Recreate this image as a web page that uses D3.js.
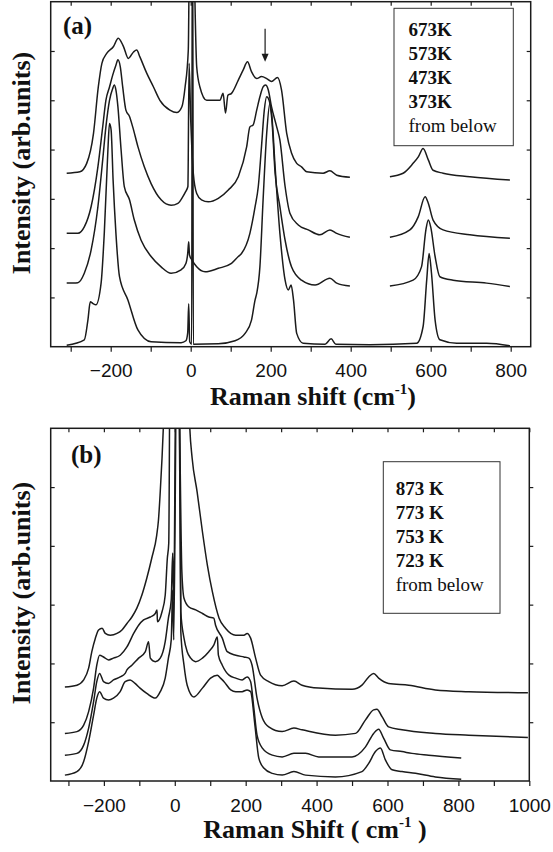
<!DOCTYPE html>
<html><head><meta charset="utf-8">
<script src="https://cdn.jsdelivr.net/npm/d3@7"></script>
<style>body{margin:0;background:#fff}svg{display:block}</style>
</head><body><svg id="c" width="553" height="852"></svg>
<script>
// ---------- Panel (a) data: [Raman shift, intensity offset units] ----------
const a673K = [[-310,0.03],[-266,0.14],[-257,0.54],[-251,0.91],[-245,0.88],[-237,0.85],[-224,1.29],[-216,2.31],[-207,3.99],[-203,4.53],[-199,4.40],[-194,3.38],[-187,2.31],[-178,1.42],[-157,0.95],[-132,0.34],[-99,0.1],[-24,0.08],[-12,0.12],[-7.5,0.28],[-5,0.87],[-2.5,0.1],[2.5,0.05],[4,9],[5,9],[6.5,0.05],[69,0.06],[111,0.12],[136,0.27],[152,0.54],[161,0.95],[165,1.08],[173,1.62],[181,2.98],[190,4.33],[198,4.94],[203,4.67],[211,3.65],[223,2.30],[236,1.35],[244,1.15],[251,1.25],[257,0.95],[265,0.27],[281,0.07],[336,0.05],[351,0.16],[363,0.05],[448,0.04],[565,0.07],[581,0.41],[590,1.35],[596,1.89],[602,1.49],[611,0.54],[623,0.14],[665,0.07],[740,0.07],[798,0.02]];
const a573K = [[-310,1.29],[-282,1.30],[-266,1.49],[-249,1.96],[-232,2.84],[-220,3.79],[-212,4.46],[-203,5.00],[-195,5.24],[-191,5.31],[-187,5.21],[-182,4.87],[-174,3.99],[-166,3.25],[-153,2.98],[-141,2.57],[-124,2.16],[-99,1.83],[-74,1.62],[-49,1.49],[-24,1.56],[-12,1.69],[-7.5,1.89],[-5,2.13],[-3,1.86],[3,1.76],[15,1.62],[36,1.52],[69,1.59],[102,1.69],[119,1.83],[127,1.89],[148,2.30],[161,2.84],[169,3.25],[177,4.06],[184,4.80],[190,5.07],[196,5.00],[203,4.60],[211,3.52],[223,2.84],[236,2.16],[252,1.62],[277,1.35],[311,1.25],[348,1.39],[365,1.29],[398,1.23],[450,null],[498,1.23],[556,1.35],[577,1.62],[588,2.37],[594,2.57],[600,2.43],[611,1.83],[623,1.42],[656,1.35],[740,1.29],[798,1.22]];
const a473K = [[-310,2.30],[-282,2.30],[-266,2.43],[-249,2.84],[-232,3.65],[-220,4.46],[-212,5.00],[-203,5.27],[-195,5.51],[-187,5.71],[-182,5.82],[-176,5.68],[-170,5.27],[-162,4.80],[-153,4.67],[-145,4.46],[-132,4.06],[-116,3.65],[-99,3.31],[-74,2.98],[-49,2.87],[-32,2.91],[-20,3.04],[-13,3.14],[-7,3.25],[-4,5.75],[0,4.6],[3,4.0],[6.5,3.52],[15,3.11],[27,2.98],[44,2.94],[69,3.01],[94,3.18],[119,3.45],[140,4.06],[148,4.46],[156,4.50],[165,4.80],[173,5.07],[181,5.27],[187,5.31],[194,5.21],[202,4.87],[215,4.46],[223,4.19],[236,3.25],[248,2.71],[269,2.47],[294,2.37],[323,2.27],[348,2.37],[365,2.30],[398,2.22],[450,null],[498,2.22],[548,2.37],[569,2.64],[586,3.04],[594,2.91],[606,2.57],[631,2.37],[698,2.27],[798,2.20]];
const a373K = [[-310,3.52],[-277,3.55],[-260,3.72],[-243,4.33],[-231,5.27],[-222,5.75],[-210,5.95],[-193,6.09],[-181,6.26],[-168,6.09],[-156,5.85],[-143,5.98],[-135,6.02],[-127,5.88],[-110,5.55],[-93,5.27],[-77,5.00],[-52,4.80],[-35,4.75],[-22,4.87],[-14,5.27],[-6,6.02],[-2,9],[4,9],[15,5.68],[23,5.27],[40,5.00],[73,5.00],[81,5.14],[87,4.74],[93,5.10],[102,5.14],[119,5.41],[131,5.61],[142,5.78],[152,5.58],[165,5.44],[177,5.48],[190,5.44],[202,5.38],[217,5.46],[227,5.21],[240,4.33],[252,3.93],[265,3.72],[277,3.65],[290,3.55],[331,3.52],[348,3.57],[365,3.48],[398,3.44],[450,null],[498,3.45],[531,3.52],[556,3.72],[569,3.85],[581,4.02],[594,3.79],[606,3.58],[631,3.52],[698,3.45],[798,3.38]];
const aLegend = ["673K","573K","473K","373K"];
const aXTicks = [-300,-200,-100,0,100,200,300,400,500,600,700,800];
const aXLabels = [-200,0,200,400,600,800];
const aYTicks = [1,2,3,4,5,6];
const aArrow = [[186,6.45],[186,5.78]];

// ---------- Panel (b) data ----------
const b873K = [[-310,0.10],[-276,0.16],[-257,0.33],[-243,0.67],[-229,1.12],[-220,1.41],[-212,1.52],[-201,1.41],[-187,1.38],[-173,1.41],[-154,1.52],[-140,1.69],[-126,1.72],[-112,1.66],[-98,1.58],[-79,1.49],[-55,1.41],[-41,1.52],[-27,1.75],[-18,2.09],[-10,2.40],[-6,3.25],[-3,2.40],[6,7.5],[12,7.5],[17,2.54],[26,1.97],[35,1.63],[54,1.43],[78,1.58],[101,1.75],[120,1.80],[129,1.75],[139,1.69],[158,1.55],[172,1.52],[190,1.52],[204,1.55],[214,1.52],[226,0.95],[237,0.39],[251,0.22],[275,0.13],[303,0.10],[336,0.16],[369,0.10],[453,0.07],[528,0.16],[547,0.30],[566,0.50],[580,0.56],[594,0.36],[613,0.19],[641,0.16],[679,0.13],[735,0.07],[808,0.03]];
const b773K = [[-310,0.44],[-276,0.47],[-257,0.61],[-243,0.90],[-229,1.35],[-220,1.69],[-212,1.83],[-201,1.69],[-187,1.66],[-173,1.72],[-154,1.77],[-140,1.83],[-135,1.89],[-121,1.97],[-102,2.09],[-83,2.20],[-74,2.37],[-69,2.09],[-55,2.03],[-41,2.09],[-27,2.37],[-18,2.77],[-10,3.08],[-6,3.88],[-3,3.08],[4,7.5],[11,7.5],[17,2.88],[26,2.43],[35,2.20],[45,2.09],[59,2.03],[78,2.09],[96,2.20],[110,2.31],[120,2.45],[123,2.14],[134,1.97],[153,1.80],[172,1.75],[190,1.72],[204,1.77],[214,1.69],[223,1.24],[232,0.78],[247,0.56],[275,0.44],[303,0.41],[336,0.47],[369,0.47],[406,0.41],[500,0.41],[538,0.58],[561,0.81],[575,0.88],[589,0.73],[608,0.53],[641,0.50],[669,0.47],[716,0.44],[808,0.39]];
const b753K = [[-310,0.81],[-276,0.84],[-257,0.95],[-243,1.18],[-229,1.58],[-220,1.97],[-212,2.14],[-201,2.11],[-187,2.06],[-173,2.09],[-154,2.14],[-135,2.28],[-116,2.51],[-102,2.65],[-88,2.74],[-69,2.79],[-55,2.85],[-50,2.91],[-49,2.71],[-36,2.88],[-27,3.16],[-21,3.79],[-17,4.05],[-13,7.5],[9,7.5],[20,3.56],[26,3.11],[40,2.96],[59,2.91],[78,2.85],[96,2.79],[110,2.77],[115,2.65],[134,2.43],[148,2.20],[172,2.14],[195,2.11],[209,2.09],[218,1.97],[232,1.41],[247,1.07],[265,0.92],[303,0.84],[336,0.90],[359,0.87],[453,0.78],[510,0.81],[538,1.04],[561,1.21],[570,1.22],[585,1.09],[603,0.92],[641,0.87],[735,0.81],[829,0.78],[996,0.74]];
const b723K = [[-310,1.60],[-276,1.63],[-257,1.72],[-243,1.92],[-234,2.20],[-224,2.43],[-215,2.57],[-205,2.60],[-196,2.51],[-182,2.48],[-163,2.51],[-149,2.57],[-135,2.68],[-121,2.79],[-107,2.94],[-93,3.16],[-79,3.45],[-65,3.79],[-51,4.18],[-46,4.44],[-41,4.92],[-36,5.49],[-32,6.05],[-25,7.5],[35,7.5],[42,6.05],[49,5.49],[63,4.92],[78,4.24],[92,3.67],[106,3.22],[125,2.77],[143,2.60],[172,2.48],[195,2.48],[204,2.51],[214,2.43],[228,2.09],[242,1.80],[265,1.69],[303,1.62],[336,1.70],[359,1.63],[406,1.58],[500,1.56],[528,1.63],[547,1.77],[561,1.83],[575,1.75],[603,1.66],[660,1.63],[735,1.55],[829,1.52],[996,1.50]];
const bLegend = ["873 K","773 K","753 K","723 K"];
const bXTicks = [-300,-200,-100,0,100,200,300,400,500,600,700,800,900,1000];
const bXLabels = [-200,0,200,400,600,800,1000];
const bYTicks = [1,2,3,4,5];

const svg = d3.select("#c");
const serif = "'Liberation Serif','Times New Roman',Times,serif";
const sans = "'Liberation Sans',Arial,Helvetica,sans-serif";
const ink = "#1b1b1b";

function panel(cfg){
  const x = d3.scaleLinear().domain(cfg.xDomain).range([cfg.L, cfg.R]);
  const y = d3.scaleLinear().domain(cfg.yDomain).range([cfg.B, cfg.T]);
  const g = svg.append("g");
  const cid = "clip" + cfg.id;
  svg.append("defs").append("clipPath").attr("id", cid)
    .append("rect").attr("x", cfg.L).attr("y", cfg.T).attr("width", cfg.R-cfg.L).attr("height", cfg.B-cfg.T);
  const line = d3.line().defined(d => d[1] !== null).curve(d3.curveMonotoneX)
    .x(d => x(d[0])).y(d => y(d[1]));
  g.append("g").attr("clip-path", `url(#${cid})`).selectAll("path").data(cfg.series).join("path")
    .attr("d", d => line(d)).attr("fill","none").attr("stroke", ink).attr("stroke-width", 1.5)
    .attr("stroke-linejoin","round");

  // axes
  const fmt = d3.format("d");
  const bottom = g.append("g").attr("transform", `translate(0,${cfg.B})`)
    .call(d3.axisBottom(x).tickValues(cfg.xTicks).tickSize(5).tickPadding(6)
      .tickFormat(d => cfg.xLabels.includes(d) ? fmt(d) : ""));
  const top = g.append("g").attr("transform", `translate(0,${cfg.T})`)
    .call(d3.axisTop(x).tickValues(cfg.xTicks).tickSize(-4).tickFormat(""));
  const left = g.append("g").attr("transform", `translate(${cfg.L},0)`)
    .call(d3.axisLeft(y).tickValues(cfg.yTicks).tickSize(-4).tickFormat(""));
  const right = g.append("g").attr("transform", `translate(${cfg.R},0)`)
    .call(d3.axisRight(y).tickValues(cfg.yTicks).tickSize(cfg.rightOut ? 4 : -4).tickFormat(""));
  [bottom, top, left, right].forEach(a => {
    a.select(".domain").remove();
    a.selectAll(".tick line").attr("stroke", ink).attr("stroke-width", 1.2);
  });
  bottom.selectAll(".tick text").attr("font-family", sans).attr("font-size", 19).attr("fill", "#111")
    .attr("dy", null).attr("y", cfg.labelBase - cfg.B);
  // frame
  g.append("rect").attr("x", cfg.L).attr("y", cfg.T).attr("width", cfg.R-cfg.L).attr("height", cfg.B-cfg.T)
    .attr("fill","none").attr("stroke", ink).attr("stroke-width", 1.5);

  // x title
  const xt = g.append("text").attr("x", cfg.xTitleX).attr("y", cfg.xTitleY).attr("text-anchor","middle")
    .attr("font-family", serif).attr("font-weight","bold").attr("font-size", 26).attr("fill","#111");
  xt.append("tspan").text(cfg.xTitle[0]);
  xt.append("tspan").attr("font-size", 15).attr("dy", -11).text("-1");
  xt.append("tspan").attr("dy", 11).text(cfg.xTitle[1]);
  // y title
  g.append("text").attr("transform", `translate(${cfg.yTitleX},${cfg.yTitleY}) rotate(-90)`)
    .attr("text-anchor","middle").attr("font-family", serif).attr("font-weight","bold")
    .attr("font-size", 26).attr("fill","#111").text("Intensity (arb.units)");
  // panel tag
  g.append("text").attr("x", cfg.tagX).attr("y", cfg.tagY).attr("font-family", serif).attr("font-weight","bold")
    .attr("font-size", 25).attr("fill","#111").text(cfg.tag);
  // legend
  const lg = cfg.legend;
  g.append("rect").attr("x", lg.x).attr("y", lg.y).attr("width", lg.w).attr("height", lg.h)
    .attr("fill","#fff").attr("stroke","#333").attr("stroke-width", 1);
  cfg.legendItems.forEach((t, i) => {
    g.append("text").attr("x", lg.tx).attr("y", lg.base + i*lg.step).attr("font-family", serif)
      .attr("font-weight","bold").attr("font-size", 19).attr("fill","#111").text(t);
  });
  g.append("text").attr("x", lg.tx).attr("y", lg.base + cfg.legendItems.length*lg.step).attr("font-family", serif)
    .attr("font-size", 19).attr("fill","#111").text("from below");
  return {x, y, g};
}

const A = panel({
  id:"a", xDomain:[-350,850], yDomain:[0,7], L:50.7, R:530.7, T:1.7, B:346.7,
  series:[a673K, a573K, a473K, a373K], xTicks:aXTicks, xLabels:aXLabels, yTicks:aYTicks,
  labelBase:377, xTitle:["Raman shift (cm", ")"], xTitleX:313, xTitleY:405,
  yTitleX:30, yTitleY:163, tag:"(a)", tagX:63, tagY:34,
  legend:{x:394, y:8.3, w:119.3, h:137.4, tx:408.5, base:36, step:24},
  legendItems: aLegend.slice(), rightOut:false
});
// arrow annotation
const ar = aArrow.map(p => [A.x(p[0]), A.y(p[1])]);
A.g.append("line").attr("x1", ar[0][0]).attr("y1", ar[0][1]).attr("x2", ar[1][0]).attr("y2", ar[1][1]-5)
  .attr("stroke", ink).attr("stroke-width", 1.2);
A.g.append("path").attr("d", `M${ar[1][0]-3.5},${ar[1][1]-8} L${ar[1][0]+3.5},${ar[1][1]-8} L${ar[1][0]},${ar[1][1]} Z`)
  .attr("fill", ink);

panel({
  id:"b", xDomain:[-350,1000], yDomain:[0,6], L:50.7, R:529.3, T:428.3, B:781,
  series:[b873K, b773K, b753K, b723K], xTicks:bXTicks, xLabels:bXLabels, yTicks:bYTicks,
  labelBase:812, xTitle:["Raman Shift ( cm", " )"], xTitleX:315, xTitleY:838,
  yTitleX:30, yTitleY:593, tag:"(b)", tagX:71, tagY:463,
  legend:{x:383.3, y:461.7, w:116.7, h:151.6, tx:395.7, base:495, step:24},
  legendItems: bLegend.slice(), rightOut:true
});
</script></body></html>
